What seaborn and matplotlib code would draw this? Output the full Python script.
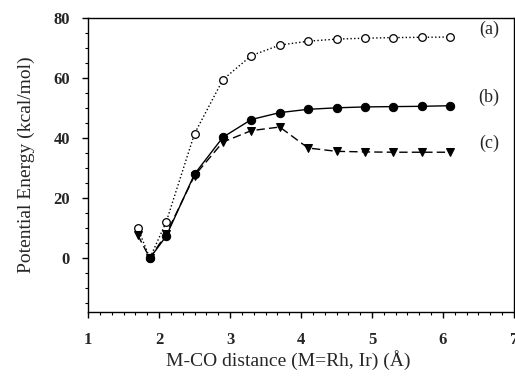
import numpy as np
import pandas as pd
import seaborn as sns
import matplotlib.pyplot as plt
from matplotlib.ticker import MultipleLocator, AutoMinorLocator

# M-CO distance (Angstrom)
dist = [1.70, 1.87, 2.10, 2.50, 2.90, 3.30, 3.70, 4.10, 4.50, 4.90, 5.30, 5.70, 6.10]
dist_b = dist[1:]

energy_a = [10.0, 0.0, 12.0, 41.5, 59.5, 67.5, 71.0, 72.3, 73.0, 73.3, 73.5, 73.6, 73.7]
energy_b = [0.0, 7.3, 28.0, 40.3, 46.2, 48.5, 49.6, 50.1, 50.4, 50.5, 50.6, 50.8]
energy_c = [7.7, 0.0, 8.0, 27.5, 38.7, 42.5, 43.7, 36.7, 35.6, 35.4, 35.3, 35.3, 35.3]

curve_labels = ["(a)", "(b)", "(c)"]
label_y = [76.3, 53.5, 38.3]

sns.set_theme(style="ticks")
plt.rcParams["font.family"] = ["Liberation Serif", "DejaVu Serif"]

fig = plt.figure(figsize=(5.15, 3.77), dpi=100)
ax = fig.add_axes([0.171, 0.172, 0.827, 0.780])

sns.lineplot(x=dist, y=energy_a, ax=ax, color="black", linestyle=":", linewidth=1.0,
             marker="o", markersize=5.5, markerfacecolor="white",
             markeredgecolor="black", markeredgewidth=0.9)
sns.lineplot(x=dist_b, y=energy_b, ax=ax, color="black", linestyle="-", linewidth=1.0,
             marker="o", markersize=6, markerfacecolor="black",
             markeredgecolor="black")
sns.lineplot(x=dist, y=energy_c, ax=ax, color="black", linewidth=1.0,
             marker="v", markersize=5.5, markerfacecolor="black",
             markeredgecolor="black")
ax.lines[-1].set_dashes((6, 3))

for lab, yv in zip(curve_labels, label_y):
    ax.text(6.65, yv, lab, fontsize=13, ha="center", va="center")

ax.set_xlim(1, 7)
ax.set_ylim(-18, 80)
ax.xaxis.set_major_locator(MultipleLocator(1))
ax.xaxis.set_minor_locator(AutoMinorLocator(6))
ax.yaxis.set_major_locator(MultipleLocator(20))
ax.yaxis.set_minor_locator(MultipleLocator(5))
ax.set_yticks([0, 20, 40, 60, 80])
ax.tick_params(which="major", length=4, width=1, labelsize=12, color="black")
ax.tick_params(axis="x", which="major", pad=10)
ax.tick_params(axis="y", which="major", pad=9)
ax.tick_params(which="minor", length=2.5, width=0.8, color="black")
for lbl in ax.get_xticklabels() + ax.get_yticklabels():
    lbl.set_fontweight("bold")

for s in ax.spines.values():
    s.set_color("black")
    s.set_linewidth(1.0)

ax.set_xlabel("M-CO distance (M=Rh, Ir) (Å)", fontsize=14)
ax.set_ylabel("Potential Energy (kcal/mol)", fontsize=14)
ax.xaxis.set_label_coords(0.47, -0.13)
ax.yaxis.set_label_coords(-0.125, 0.5)

fig.savefig("out.png", dpi=100)
